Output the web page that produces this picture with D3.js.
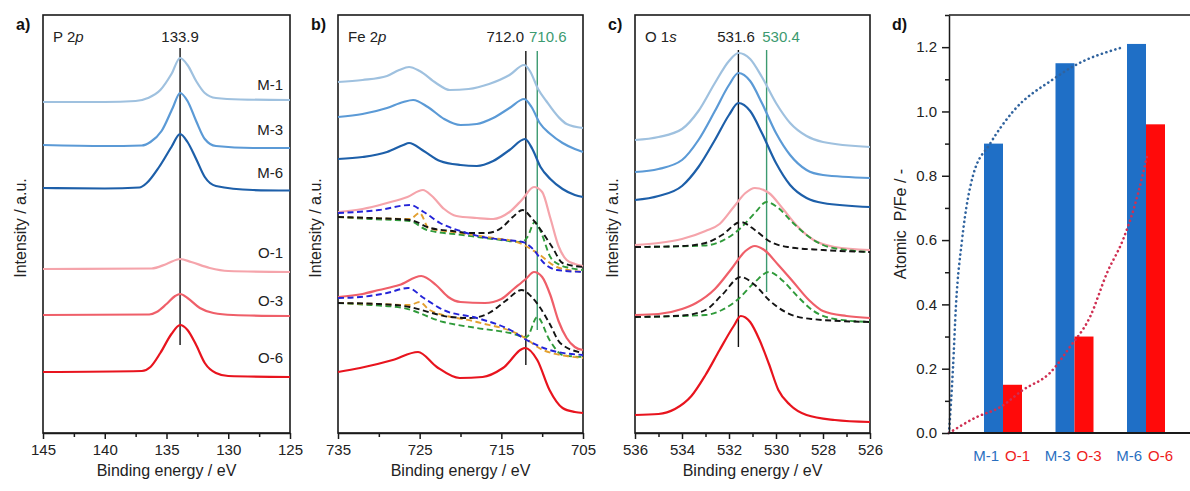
<!doctype html>
<html>
<head>
<meta charset="utf-8">
<title>XPS P 2p / Fe 2p / O 1s and P/Fe ratio</title>
<script src="https://cdn.jsdelivr.net/npm/d3@7"></script>
<style>
  body { margin: 0; background: #fff; }
  svg { display: block; font-family: "Liberation Sans", Arial, Helvetica, sans-serif; }
  .frame { fill: none; stroke: #1a1a1a; stroke-width: 1.6; }
  .axis path, .axis line { stroke: #1a1a1a; stroke-width: 1.5; }
  .axis text { font-size: 15px; fill: #222; }
  .spec { fill: none; stroke-width: 2.2; stroke-linejoin: round; }
  .fit { fill: none; stroke-width: 1.9; stroke-dasharray: 6 3.5; }
  .trend { fill: none; stroke-width: 2.6; stroke-linecap: round; stroke-dasharray: 0.1 4.6; }
</style>
</head>
<body>
<div id="chart"></div>
<script>
// ---- data -----------------------------------------------------------
// a) P 2p  [binding energy eV, intensity a.u.]
var p2pM1 = [[145,33.1],[140,33.1],[137.5,33.2],[136.5,33.5],[135.5,34.3],[134.6,35.9],[133.9,37.5],[133.3,36.8],[132.6,35.2],[131.9,34.0],[131,33.5],[129,33.35],[125,33.3]];
var p2pM3 = [[145,28.8],[140,28.7],[137,28.75],[136.3,29.1],[135.4,30.2],[134.5,32.5],[133.9,34.0],[133.3,33.2],[132.6,31.2],[131.9,29.4],[131,28.7],[128,28.5],[125,28.5]];
var p2pM6 = [[145,24.5],[140,24.45],[137.2,24.55],[136.6,25.0],[135.6,26.6],[134.6,28.6],[133.9,29.9],[133.3,29.1],[132.6,27.4],[131.9,25.6],[131,24.7],[128,24.3],[125,24.25]];
var p2pO1 = [[145,16.4],[136.2,16.45],[135,16.9],[133.9,17.4],[133,17.1],[131.5,16.5],[130,16.2],[125,16.1]];
var p2pO3 = [[145,11.8],[136.4,11.85],[135.8,12.1],[135,12.9],[134.3,13.7],[133.9,13.9],[133.3,13.5],[132.3,12.5],[131.2,12.0],[129.6,11.8],[125,11.7]];
var p2pO6 = [[145,6.1],[137,6.2],[136.3,6.6],[135.5,8.0],[134.6,9.9],[133.9,10.8],[133.3,10.3],[132.6,8.8],[131.9,7.0],[131,6.0],[130,5.7],[125,5.6]];

// b) Fe 2p
var fe2pM1 = [[735,35.1],[732,35.3],[729,35.7],[727.5,36.3],[726.3,36.6],[725,36.2],[723,35.0],[721.3,34.3],[719,34.4],[716.5,34.9],[714,35.8],[712.2,36.8],[711.5,36.2],[710.5,34.4],[709.5,33.2],[708,31.6],[707,30.9],[705,30.5]];
var fe2pM3 = [[735,31.6],[732,31.9],[729,32.5],[727,33.1],[725.8,33.3],[724,32.6],[722,31.4],[720,30.8],[718,30.9],[716,31.5],[714,32.5],[712.2,33.4],[711.3,32.6],[710.3,31.0],[709,29.9],[707.5,29.0],[706,28.4],[705,28.1]];
var fe2pM6 = [[735,27.4],[732,27.6],[729,28.1],[727,28.8],[726.3,29.0],[724.5,28.2],[722.5,27.2],[720,26.8],[718,26.7],[716,27.2],[714,28.3],[712.1,29.4],[711.2,28.4],[710.2,26.6],[709,25.4],[707.5,24.4],[706,23.8],[705,23.6]];
var fe2pO1 = [[735,22.1],[732,22.4],[729,23.0],[726.5,23.6],[724.6,24.3],[723.5,23.7],[722,22.4],[720.5,21.7],[718,21.5],[716,21.4],[714,22.1],[712.5,23.3],[711,24.6],[710,24.1],[709,21.5],[708,18.7],[707,17.3],[706,16.9],[705,16.7]];
var fe2pO1Blue = [[735,22.0],[730,22.3],[726.2,22.8],[724.5,22.1],[722.5,21.0],[720,20.2],[717.3,19.6],[714.5,19.3],[712.4,19.1],[711,18.3],[709.9,17.1],[708.2,16.3],[705,16.1]];
var fe2pO1Black = [[735,21.6],[731,21.5],[726.2,21.3],[723.7,20.5],[721,20.2],[718.8,20.0],[716.8,20.0],[715,20.5],[713.6,21.6],[712.4,22.3],[711.2,21.4],[709.9,20.0],[708.7,18.5],[707.5,17.0],[705,16.6]];
var fe2pO1Orange = [[735,21.6],[731,21.5],[726.2,21.4],[725,22.0],[723.9,20.5],[720,20.0],[716,19.5],[713.1,19.1],[710.6,18.0],[708.2,16.6],[705,16.1]];
var fe2pO1Green = [[735,21.6],[731,21.4],[726.2,21.2],[724.1,20.3],[719.7,19.8],[716,19.4],[712.4,19.1],[711.8,19.6],[710.9,21.1],[710.1,20.0],[709,17.6],[707.8,16.8],[706.6,16.5],[705,16.3]];
var fe2pO3 = [[735,13.6],[732,13.9],[730,14.3],[727.5,14.8],[724.8,15.7],[723,14.8],[721.5,13.6],[720,13.1],[717,13.0],[715,13.4],[713.5,14.4],[712,15.4],[711,16.1],[710,15.6],[709,13.8],[708,11.2],[707,9.5],[706,8.6],[705,8.3]];
var fe2pO3Blue = [[735,13.5],[732.3,13.6],[729,14.0],[726.4,14.5],[724.5,13.5],[722.1,12.3],[718,11.5],[713.9,10.3],[711.9,9.3],[709.1,8.3],[705,7.8]];
var fe2pO3Black = [[735,13.0],[730,12.9],[726.2,12.6],[723.5,12.0],[721.3,11.6],[718.8,11.5],[716.5,12.0],[714.5,13.2],[712.5,14.3],[711.4,13.7],[710.3,12.6],[709,10.8],[707.8,9.0],[705,8.0]];
var fe2pO3Orange = [[735,13.0],[730,12.9],[726.2,12.8],[725,13.1],[723.8,12.3],[718,11.1],[712.7,9.8],[709.9,8.3],[707,7.7],[705,7.5]];
var fe2pO3Green = [[735,13.0],[731,12.8],[727,12.5],[722.1,11.1],[718,10.5],[713.9,10.0],[711.9,9.6],[710.6,11.6],[709.1,9.3],[707.5,7.8],[705,7.6]];
var fe2pO6 = [[735,6.1],[732.3,6.5],[728.3,7.3],[725.2,8.1],[722.9,6.6],[720.1,5.5],[717.3,5.6],[714.8,6.5],[712.1,8.5],[710.6,7.3],[709.1,4.3],[707.5,2.5],[706,2.1],[705,2.0]];

// c) O 1s
var o1sM1 = [[536,29.3],[535,29.6],[534,30.4],[533.3,32.2],[532.6,35.0],[532,37.2],[531.6,38.0],[531.1,37.4],[530.6,35.6],[530,33.0],[529.4,31.0],[528.7,29.7],[528,29.1],[526,28.6]];
var o1sM3 = [[536,26.1],[535,26.4],[534,27.3],[533.3,29.3],[532.6,32.2],[532,34.8],[531.6,36.0],[531.1,35.2],[530.6,33.0],[530,30.0],[529.4,27.8],[528.7,26.3],[528,25.8],[526,25.5]];
var o1sM6 = [[536,23.3],[535,23.7],[534,24.7],[533.3,26.6],[532.6,29.3],[532,31.8],[531.6,33.0],[531.1,32.2],[530.6,30.0],[530,27.0],[529.4,24.8],[528.7,23.5],[528,23.0],[526,22.6]];
var o1sO1 = [[536,18.8],[535,19.0],[534,19.4],[533,20.2],[532.4,20.9],[531.8,22.6],[531.3,24.0],[530.9,24.5],[530.3,24.0],[529.7,22.4],[529.1,20.7],[528.4,19.3],[527.5,18.6],[526,18.3]];
var o1sO1Black = [[536,18.6],[534,18.7],[533,19.0],[532.3,19.8],[531.5,21.1],[530.9,20.3],[530.3,19.2],[529.5,18.6],[528,18.3],[526,18.1]];
var o1sO1Green = [[536,18.6],[533,18.75],[532.4,19.1],[531.5,20.5],[530.9,22.0],[530.4,23.1],[529.9,22.5],[529.4,21.3],[528.7,19.8],[528,18.8],[527,18.3],[526,18.1]];
var o1sO3 = [[536,11.8],[535,11.9],[534,12.4],[533.4,13.0],[532.6,14.4],[531.9,16.4],[531.3,18.2],[530.9,18.7],[530.5,18.3],[529.9,16.8],[529.3,15.2],[528.6,13.3],[528,12.2],[527,11.7],[526,11.5]];
var o1sO3Black = [[536,11.6],[534,11.75],[533,12.3],[532.3,13.8],[531.5,15.6],[530.9,14.8],[530.3,13.3],[529.6,12.1],[528.5,11.4],[526,11.1]];
var o1sO3Green = [[536,11.6],[533,11.8],[532.3,12.3],[531.6,13.4],[530.9,15.1],[530.3,16.1],[529.7,15.2],[529.1,13.7],[528.4,12.2],[527.5,11.4],[526,11.1]];
var o1sO6 = [[536,1.8],[535,1.9],[534.3,2.4],[533.6,3.7],[533,5.8],[532.4,8.3],[531.8,10.7],[531.5,11.7],[531.1,11.1],[530.7,9.3],[530.3,6.9],[529.9,4.3],[529.4,2.8],[528.7,1.8],[527.5,1.3],[526,1.1]];

// labels and reference lines [energy, top a.u., bottom a.u.]
var sampleLabels = ['M-1', 'M-3', 'M-6', 'O-1', 'O-3', 'O-6'];
var p2pLabelY = [34.8, 30.3, 26.0, 18.0, 13.2, 7.5];
var p2pRef = [133.9, 38.5, 8.8];
var fe2pRefs = [[712.0, 38.2, 6.8], [710.6, 38.2, 10.3]];
var o1sRefs = [[531.6, 38.3, 8.6], [530.4, 38.3, 14.1]];

// d) atomic P/Fe
var groups = ['1', '3', '6'];
var ratioM = [0.90, 1.15, 1.21];
var ratioO = [0.15, 0.30, 0.96];
var ratioTicks = [0, 0.2, 0.4, 0.6, 0.8, 1.0, 1.2];
// dotted guide curves [group position, P/Fe]
var trendM = [[-0.755,0],[-0.70,0.2],[-0.657,0.4],[-0.573,0.6],[-0.42,0.8],[-0.18,0.9],[0.14,1.0],[0.70,1.1],[0.98,1.14],[1.68,1.2]];
var trendO = [[-0.755,0],[-0.364,0.05],[-0.042,0.08],[0.28,0.134],[0.657,0.187],[0.937,0.268],[1.217,0.361],[1.455,0.498],[1.678,0.601],[1.846,0.71],[2.014,0.86]];

(function() {
  var width = 1190, height = 491;
  var plotTop = 15, plotBottom = 433;
  var col = {
    M1: '#9fc1df', M3: '#5b9ad6', M6: '#1d5fa9',
    O1: '#f5a4ab', O3: '#ef5f69', O6: '#e8141e',
    blue: '#2424d8', black: '#141414', orange: '#e3a030', green: '#2f9a3a',
    ref2: '#3c9a70', text: '#222'
  };

  var svg = d3.select('#chart').append('svg')
    .attr('width', width)
    .attr('height', height);

  var y = d3.scaleLinear().domain([0, 41.8]).range([plotBottom, plotTop]);
  var makeLine = function(x) {
    return d3.line()
      .x(function(d) { return x(d[0]); })
      .y(function(d) { return y(d[1]); })
      .curve(d3.curveMonotoneX);
  };

  function range(a, b, s) {
    var out = [];
    for (var v = a; v <= b + 1e-9; v += s) out.push(+v.toFixed(3));
    return out;
  }

  function spectrumPanel(letter, x0, x1, domain, majors, minors, title) {
    var x = d3.scaleLinear().domain(domain).range([x0, x1]);
    var g = svg.append('g');

    g.append('rect').attr('class', 'frame')
      .attr('x', x0).attr('y', plotTop)
      .attr('width', x1 - x0).attr('height', plotBottom - plotTop);

    g.append('g').attr('class', 'axis')
      .attr('transform', 'translate(0,' + plotBottom + ')')
      .call(d3.axisBottom(x).tickValues(minors).tickSize(4).tickFormat(''))
      .call(function(s) { s.select('.domain').remove(); });
    g.append('g').attr('class', 'axis')
      .attr('transform', 'translate(0,' + plotBottom + ')')
      .call(d3.axisBottom(x).tickValues(majors).tickSize(6).tickSizeOuter(0).tickPadding(5).tickFormat(d3.format('d')));

    g.append('text').attr('x', (x0 + x1) / 2).attr('y', 476)
      .attr('text-anchor', 'middle').attr('font-size', 16).attr('fill', col.text)
      .text('Binding energy / eV');

    g.append('text')
      .attr('transform', 'translate(' + (x0 - 17) + ',228) rotate(-90)')
      .attr('text-anchor', 'middle').attr('font-size', 16).attr('fill', col.text)
      .text('Intensity / a.u.');

    g.append('text').attr('x', x0 - 27).attr('y', 30)
      .attr('font-size', 16).attr('font-weight', 'bold').attr('fill', '#111')
      .text(letter + ')');

    var t = g.append('text').attr('x', x0 + 10).attr('y', 42)
      .attr('font-size', 15).attr('fill', col.text);
    t.append('tspan').text(title[0]);
    t.append('tspan').attr('font-style', 'italic').text(title[1]);

    return { g: g, x: x, line: makeLine(x) };
  }

  function refLine(p, r, color) {
    p.g.append('line')
      .attr('x1', p.x(r[0])).attr('x2', p.x(r[0]))
      .attr('y1', y(r[1])).attr('y2', y(r[2]))
      .attr('stroke', color).attr('stroke-width', 1.4);
  }

  function spec(p, data, color, cls) {
    p.g.append('path').datum(data)
      .attr('class', cls || 'spec')
      .attr('stroke', color)
      .attr('d', p.line);
  }

  // a) P 2p
  var pa = spectrumPanel('a', 43, 290, [145, 125], range(125, 145, 5), range(127.5, 142.5, 5), ['P 2', 'p']);
  refLine(pa, p2pRef, '#111');
  [p2pM1, p2pM3, p2pM6, p2pO1, p2pO3, p2pO6].forEach(function(s, i) {
    spec(pa, s, [col.M1, col.M3, col.M6, col.O1, col.O3, col.O6][i]);
  });
  sampleLabels.forEach(function(l, i) {
    pa.g.append('text').attr('x', 283).attr('y', y(p2pLabelY[i]) + 5)
      .attr('text-anchor', 'end').attr('font-size', 15).attr('fill', col.text).text(l);
  });
  pa.g.append('text').attr('x', pa.x(p2pRef[0])).attr('y', 42)
    .attr('text-anchor', 'middle').attr('font-size', 15).attr('fill', col.text).text('133.9');

  // b) Fe 2p
  var pb = spectrumPanel('b', 338, 583, [735, 705], range(705, 735, 10), range(710, 730, 10), ['Fe 2', 'p']);
  refLine(pb, fe2pRefs[0], '#111');
  refLine(pb, fe2pRefs[1], col.ref2);
  spec(pb, fe2pM1, col.M1);
  spec(pb, fe2pM3, col.M3);
  spec(pb, fe2pM6, col.M6);
  spec(pb, fe2pO1, col.O1);
  spec(pb, fe2pO1Green, col.green, 'fit');
  spec(pb, fe2pO1Orange, col.orange, 'fit');
  spec(pb, fe2pO1Black, col.black, 'fit');
  spec(pb, fe2pO1Blue, col.blue, 'fit');
  spec(pb, fe2pO3, col.O3);
  spec(pb, fe2pO3Green, col.green, 'fit');
  spec(pb, fe2pO3Orange, col.orange, 'fit');
  spec(pb, fe2pO3Black, col.black, 'fit');
  spec(pb, fe2pO3Blue, col.blue, 'fit');
  spec(pb, fe2pO6, col.O6);
  pb.g.append('text').attr('x', 524).attr('y', 42).attr('text-anchor', 'end')
    .attr('font-size', 15).attr('fill', col.text).text('712.0');
  pb.g.append('text').attr('x', 529).attr('y', 42)
    .attr('font-size', 15).attr('fill', col.ref2).text('710.6');

  // c) O 1s
  var pc = spectrumPanel('c', 635, 870, [536, 526], range(526, 536, 2), range(527, 535, 2), ['O 1', 's']);
  refLine(pc, o1sRefs[0], '#111');
  refLine(pc, o1sRefs[1], col.ref2);
  spec(pc, o1sM1, col.M1);
  spec(pc, o1sM3, col.M3);
  spec(pc, o1sM6, col.M6);
  spec(pc, o1sO1, col.O1);
  spec(pc, o1sO1Green, col.green, 'fit');
  spec(pc, o1sO1Black, col.black, 'fit');
  spec(pc, o1sO3, col.O3);
  spec(pc, o1sO3Green, col.green, 'fit');
  spec(pc, o1sO3Black, col.black, 'fit');
  spec(pc, o1sO6, col.O6);
  pc.g.append('text').attr('x', 736).attr('y', 42).attr('text-anchor', 'middle')
    .attr('font-size', 15).attr('fill', col.text).text('531.6');
  pc.g.append('text').attr('x', 781).attr('y', 42).attr('text-anchor', 'middle')
    .attr('font-size', 15).attr('fill', col.ref2).text('530.4');

  // d) atomic P/Fe bars
  var dx0 = 949;
  var gx = d3.scaleLinear().domain([0, 2]).range([1003, 1146]);
  var yd = d3.scaleLinear().domain([0, 1.3]).range([plotBottom, plotTop]);
  var barW = 19;
  var gd = svg.append('g');

  ratioM.forEach(function(v, i) {
    gd.append('rect').attr('x', gx(i) - barW).attr('y', yd(v))
      .attr('width', barW).attr('height', yd(0) - yd(v)).attr('fill', '#1f6fc6');
  });
  ratioO.forEach(function(v, i) {
    gd.append('rect').attr('x', gx(i)).attr('y', yd(v))
      .attr('width', barW).attr('height', yd(0) - yd(v)).attr('fill', '#ff0a0a');
  });

  var tline = d3.line()
    .x(function(d) { return gx(d[0]); })
    .y(function(d) { return yd(d[1]); })
    .curve(d3.curveMonotoneX);
  gd.append('path').datum(trendM).attr('class', 'trend').attr('stroke', '#30639e').attr('d', tline);
  gd.append('path').datum(trendO).attr('class', 'trend').attr('stroke', '#cf2f52').attr('d', tline);

  gd.append('g').attr('class', 'axis')
    .attr('transform', 'translate(' + dx0 + ',0)')
    .call(d3.axisLeft(yd).tickValues(range(0.1, 1.3, 0.2)).tickSize(4).tickFormat(''))
    .call(function(s) { s.select('.domain').remove(); });
  gd.append('g').attr('class', 'axis')
    .attr('transform', 'translate(' + dx0 + ',0)')
    .call(d3.axisLeft(yd).tickValues(ratioTicks).tickSize(7).tickSizeOuter(0).tickPadding(5).tickFormat(d3.format('.1f')));

  gd.append('line').attr('x1', dx0).attr('x2', width).attr('y1', plotBottom).attr('y2', plotBottom)
    .attr('stroke', '#1a1a1a').attr('stroke-width', 1.8);
  gd.append('line').attr('x1', dx0).attr('x2', width).attr('y1', plotTop).attr('y2', plotTop)
    .attr('stroke', '#1a1a1a').attr('stroke-width', 1.6);

  groups.forEach(function(gname, i) {
    gd.append('text').attr('x', gx(i) - 4).attr('y', 461).attr('text-anchor', 'end')
      .attr('font-size', 15).attr('fill', '#2a6fbf').text('M-' + gname);
    gd.append('text').attr('x', gx(i) + 2).attr('y', 461)
      .attr('font-size', 15).attr('fill', '#ee1c1c').text('O-' + gname);
  });

  gd.append('text')
    .attr('transform', 'translate(906,224) rotate(-90)')
    .attr('text-anchor', 'middle').attr('font-size', 16).attr('fill', col.text)
    .attr('xml:space', 'preserve')
    .text('Atomic  P/Fe / -');
  gd.append('text').attr('x', 892).attr('y', 30)
    .attr('font-size', 16).attr('font-weight', 'bold').attr('fill', '#111').text('d)');
})();
</script>
</body>
</html>
